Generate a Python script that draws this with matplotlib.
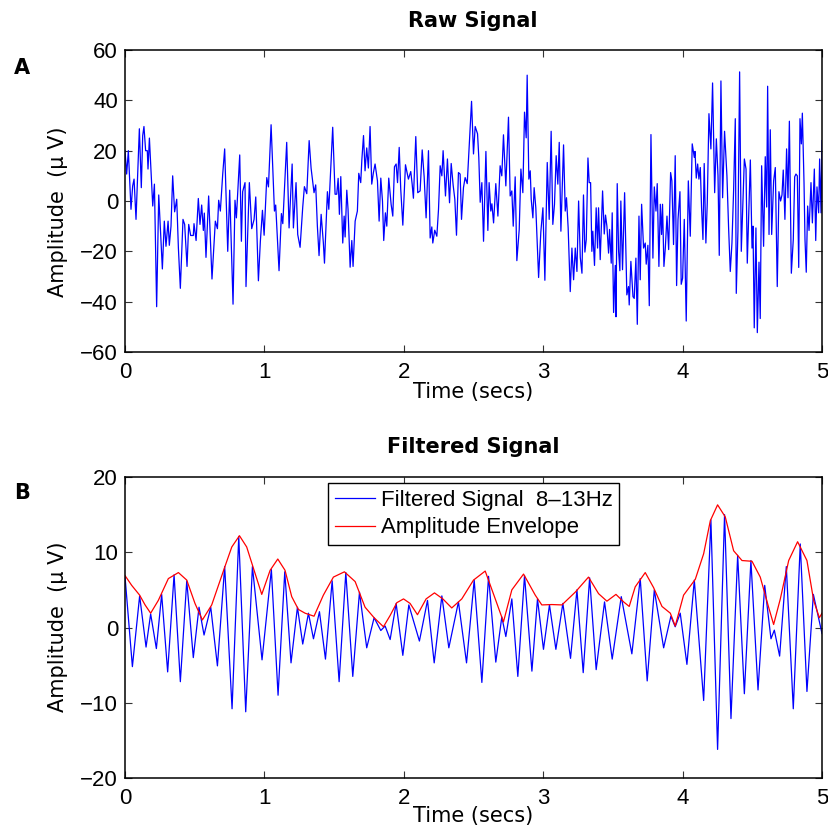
import matplotlib
matplotlib.use("Agg")
import matplotlib.pyplot as plt

# raw EEG trace (secs, microvolts)
raw_t = [
    0.000, 0.012, 0.024, 0.043, 0.055, 0.065, 0.079, 0.103, 0.117, 0.127,
    0.136, 0.148, 0.160, 0.165, 0.175, 0.199, 0.211, 0.227, 0.242, 0.268,
    0.282, 0.294, 0.309, 0.318, 0.330, 0.342, 0.356, 0.371, 0.383, 0.397,
    0.416, 0.428, 0.445, 0.457, 0.471, 0.490, 0.495, 0.510, 0.526, 0.538,
    0.550, 0.562, 0.569, 0.581, 0.600, 0.624, 0.648, 0.663, 0.672, 0.684,
    0.701, 0.715, 0.737, 0.751, 0.775, 0.789, 0.799, 0.823, 0.835, 0.844,
    0.861, 0.868, 0.892, 0.909, 0.926, 0.938, 0.957, 0.971, 0.986, 0.998,
    1.017, 1.029, 1.048, 1.072, 1.081, 1.105, 1.122, 1.132, 1.160, 1.177,
    1.199, 1.208, 1.227, 1.239, 1.256, 1.275, 1.287, 1.304, 1.321, 1.335,
    1.356, 1.368, 1.380, 1.392, 1.407, 1.423, 1.431, 1.452, 1.462, 1.476,
    1.490, 1.507, 1.519, 1.529, 1.538, 1.548, 1.562, 1.572, 1.579, 1.591,
    1.600, 1.615, 1.627, 1.636, 1.651, 1.667, 1.677,
    1.691, 1.699, 1.711, 1.722, 1.734, 1.746, 1.758, 1.770, 1.782, 1.794,
    1.811, 1.823, 1.835, 1.847, 1.856, 1.868, 1.878, 1.892, 1.909, 1.921,
    1.933, 1.945, 1.955, 1.967, 1.978, 1.993, 2.012, 2.033, 2.050, 2.060,
    2.069, 2.086, 2.100, 2.117, 2.132, 2.146, 2.160, 2.177, 2.189, 2.201,
    2.208, 2.222, 2.237, 2.249, 2.261, 2.273, 2.282, 2.299, 2.313, 2.328,
    2.340, 2.354, 2.366, 2.378, 2.392, 2.404, 2.414, 2.428, 2.440, 2.455,
    2.471, 2.486, 2.500, 2.512, 2.529, 2.538, 2.548, 2.560, 2.572, 2.589,
    2.603, 2.612, 2.624, 2.632, 2.644, 2.660, 2.675, 2.691, 2.703, 2.715,
    2.732, 2.751, 2.763, 2.775, 2.785, 2.799, 2.811, 2.828, 2.840, 2.854,
    2.866, 2.878, 2.885, 2.897, 2.907, 2.914, 2.926, 2.935, 2.947, 2.967,
    2.983, 2.998, 3.012, 3.029, 3.043, 3.057, 3.069, 3.081, 3.093, 3.105,
    3.115, 3.127, 3.146, 3.158, 3.167, 3.179, 3.194, 3.206, 3.218, 3.230,
    3.242, 3.254, 3.266,
    3.278, 3.289, 3.299, 3.309, 3.321, 3.330, 3.340, 3.349, 3.356, 3.368,
    3.380, 3.390, 3.397, 3.409, 3.426, 3.438, 3.447, 3.457, 3.469, 3.476,
    3.488, 3.495, 3.505, 3.517, 3.522, 3.531, 3.541, 3.550, 3.557, 3.569,
    3.584, 3.600, 3.612, 3.617, 3.629, 3.644, 3.653, 3.665, 3.675, 3.687,
    3.696, 3.706, 3.720, 3.732, 3.739, 3.751, 3.761, 3.773, 3.787, 3.797,
    3.809, 3.818, 3.830, 3.840, 3.849, 3.856, 3.866, 3.876, 3.888, 3.900,
    3.914, 3.923, 3.935, 3.947, 3.957, 3.967, 3.981, 3.990, 4.000, 4.012,
    4.026, 4.041, 4.055, 4.069, 4.084, 4.089, 4.098, 4.108, 4.117, 4.127,
    4.136, 4.146, 4.155, 4.167, 4.177, 4.189, 4.203, 4.215, 4.230, 4.242,
    4.254, 4.263, 4.275, 4.287, 4.301, 4.318, 4.330, 4.342, 4.354, 4.366,
    4.378, 4.385, 4.397, 4.409, 4.421, 4.431, 4.443, 4.455, 4.464, 4.486,
    4.498, 4.505, 4.514, 4.526, 4.536, 4.548, 4.557, 4.567, 4.581, 4.593,
    4.603, 4.610, 4.620, 4.629, 4.639, 4.653, 4.665, 4.679, 4.691, 4.703,
    4.713, 4.722, 4.734, 4.746, 4.756, 4.766, 4.780, 4.794, 4.804, 4.813,
    4.823, 4.833, 4.842, 4.852, 4.859, 4.871, 4.878, 4.887, 4.897, 4.907,
    4.921, 4.931, 4.945, 4.955, 4.964, 4.976, 4.983, 4.993, 5.000,
]
raw_v = [
    20, 10.7, 20, -3.3, 6, 8.7, -7.3, 28.7, 5.3, 26,
    29.6, 20, 20, 12.7, 25, -2, 6.7, -42, 2.4, -27,
    -8, -18, -8, -17.6, -10, 10, -4.3, 0.7, -18.7, -34.7,
    -7.3, -9.3, -26, -9.3, -13.7, -13.7, -9, -15.7, 1, -9.3,
    -1.6, -11.7, -4.8, -22.4, 2, -31, -8, -11, 0.3, -4,
    10.7, 20.7, -20, 4.3, -41, 0.3, -6.7, 18.3, -16, 3.7,
    7.3, -34, 7.3, -11, -7.3, 1.6, -31.7, -16, -3.7, -13.6,
    9.3, 5.6, 30.3, -4, -1.6, -27.7, -5, -9, 23.3, -10.7,
    14.7, -10.7, 7.3, -13.3, -18.4, -2.4, 5.7, 2.9, 24, 13,
    3.3, 6.4, -10, -21.7, -5.3, -16.7, -24.7, 3.7, -3.3, 13.3,
    29.3, 2.7, 2.7, 9, -5.3, 9.7, -16.7, -6, -14.3, 4.3,
    -3.3, -26.3, -15.7, -26, -8, -4, 11,
    7.3, 16.3, 26, 12, 21.1, 13.1, 29.6, 6.7, 11.3, 14.7,
    8, -8, 9.1, 0, -15.7, -4.7, -10, 9.1, -1.3, -6,
    13.6, 14.7, 7.3, 21.3, 4.7, -9.6, 14.4, 8.7, 11.7, 6.7,
    1.1, 25.6, 3.3, 4, 20.3, 9.6, -6.7, 20, -14.7, -10.3,
    -16.7, -11.6, -14, -3.3, 14, 10, 20, 2, 16.7, -0.7,
    14.9, 6.3, 0.7, -13.6, 11.3, 10.7, -7.3, 5.3, 9.3, 6.9,
    24, 39.6, 18.7, 29.6, 26.7, 17.3, -0.5, 7.3, -16, 19.7,
    -11.7, 7.3, -4, -1.1, -8.7, 6.9, -6, 14, 10, 26.3,
    6, 33.3, 2, 4, -10, 9.6, -23.7, -11.3, 12.7, 3.3,
    35.3, 25.1, 50, 8.7, 12, 0.7, -6.7, 5.3, -2.7, -30.4,
    -12.3, -2.7, -31.5, 15.3, -7.3, 27.7, -9.3, -1.3, 18, 6.7,
    23.3, -12, 22.3, -4, 1.3, -10.7, -36, -18.7, -31.3, -18.7,
    -28, 0, -22.4,
    -28.7, 2.4, -20.3, -15.3, 17.1, 7.3, 7.3, -20, -12, -25.6,
    -2.7, -18.7, -2.7, -23.3, 4, -13.1, -5.6, -10, -20.7, -11.3,
    -24.7, -4.7, -44.3, -25.6, -46, 6.9, -20, -27.7, 0, -27.3,
    3.3, -37.3, -34, -41.3, -24, -38, -38.7, -22.7, -49, -6,
    -31.3, -1.3, -18.7, -16.7, -25.1, -17.6, -41.6, 26.4, -22.7, 5.6,
    -4, 6.9, -26, -1.3, -13.3, -1.3, -26, -18.7, -6, -19.3,
    11.3, 8, -17.3, 18, -33.6, -7.3, 3.7, -33.1, -30.7, -7.3,
    -47.7, 8, -14, 22.7, 17.3, 19.7, 9.1, 14.7, 8.7, 13.3,
    -2.7, -15.3, 14.9, -16.7, -0.7, 34.7, 20.7, 46.9, 3.3, 24.7,
    10, -21.6, 47.7, 1.3, 27.7, 10, -10.7, -28, -16.7, 4.3,
    32.7, -36.7, -12, 51.3, -20, -3.3, 16.7, 12.7, -24.7, 16.3,
    -18.7, -10, -50.4, -10.7, -52.3, -24.3, -46.7, 14, -18, 17.6,
    -2.4, 45.6, -13.3, 28.3, -13.3, 8, 13.3, -34, 3.7, 0,
    2.4, 12.3, -7.3, 20.7, 1.3, 31.7, -28.7, -15.3, 9.6, 10.7,
    10, -26.4, 32.7, 22.7, 34.9, 7.3, -15.3, -28.3, -2, -11.7,
    7.3, -8.7, 12.7, -15.7, 5.6, -4.7, 16.7, -4.7, 24,
]

# alpha-band filtered trace: peaks and troughs (secs, microvolts)
filt_t = [
    0.000, 0.053, 0.105, 0.151, 0.184, 0.225, 0.263, 0.306, 0.352, 0.397,
    0.443, 0.490, 0.531, 0.567, 0.615, 0.663, 0.715, 0.768, 0.816, 0.866,
    0.914, 0.983, 1.050, 1.098, 1.146, 1.191, 1.237,
    1.275, 1.316, 1.352, 1.395, 1.438, 1.486, 1.536, 1.584, 1.634, 1.682,
    1.734, 1.787, 1.835, 1.866, 1.902, 1.945, 1.993, 2.036, 2.112, 2.170,
    2.218, 2.273, 2.323, 2.392, 2.450, 2.505,
    2.560, 2.608, 2.660, 2.703, 2.732, 2.775, 2.818, 2.866, 2.919, 2.959,
    3.002, 3.045, 3.091, 3.141, 3.196, 3.242, 3.287, 3.333, 3.380, 3.440,
    3.495, 3.560, 3.636, 3.696, 3.746,
    3.797, 3.864, 3.916, 3.947, 3.983, 4.031, 4.084, 4.151, 4.203, 4.251,
    4.301, 4.347, 4.395, 4.443, 4.490, 4.541, 4.589, 4.634, 4.658, 4.696,
    4.744, 4.794, 4.844, 4.892, 4.938, 5.000,
]
filt_v = [
    6.8, -5.2, 4.2, -2.6, 1.8, -2.8, 4.4, -5.9, 7.0, -7.2,
    6.2, -4.0, 2.7, -1.0, 2.7, -5.1, 8.1, -10.8, 12.1, -11.2,
    8.1, -4.3, 7.7, -9.0, 7.4, -4.7, 2.7,
    -2.2, 1.9, -1.5, 2.1, -4.2, 6.2, -7.2, 7.3, -6.5, 4.7,
    -2.7, 1.3, -0.4, 0.2, -1.6, 3.2, -3.7, 3.0, -1.8, 3.6,
    -4.7, 4.2, -2.7, 3.4, -4.7, 6.3,
    -7.3, 6.8, -4.6, 1.4, -1.2, 3.8, -6.5, 6.9, -5.8, 3.8,
    -2.9, 3.0, -2.9, 3.2, -4.1, 5.0, -6.0, 6.6, -5.6, 3.4,
    -4.2, 4.1, -3.5, 6.5, -7.1,
    5.0, -2.7, 1.5, 0.1, 1.9, -4.9, 6.3, -9.7, 14.3, -16.2,
    15.0, -12.1, 9.6, -8.8, 8.9, -8.3, 5.6, -1.5, -0.35, -3.8,
    8.1, -10.8, 11.1, -8.5, 4.4, -0.8,
]

# amplitude envelope
env_t = [
    0.000, 0.048, 0.105, 0.144, 0.184, 0.239, 0.311, 0.383, 0.443, 0.502,
    0.555, 0.622, 0.715, 0.766, 0.821, 0.873, 0.914, 0.981, 1.041, 1.096,
    1.148, 1.196, 1.244, 1.292, 1.356, 1.423, 1.495, 1.574, 1.651, 1.722,
    1.787, 1.854, 1.902, 1.950, 1.998, 2.045, 2.098, 2.160, 2.220, 2.280,
    2.344, 2.416, 2.500, 2.584, 2.656, 2.715, 2.775, 2.859, 2.943, 2.990,
    3.062, 3.134, 3.230, 3.325, 3.397, 3.457, 3.522, 3.577, 3.617, 3.660,
    3.732, 3.792, 3.852, 3.912, 3.947, 4.007, 4.091, 4.151, 4.199, 4.251,
    4.306, 4.366, 4.426, 4.498, 4.557, 4.617, 4.653, 4.701, 4.761, 4.825,
    4.892, 4.940, 4.981, 5.000,
]
env_v = [
    6.9, 5.6, 4.3, 3.0, 1.9, 3.6, 6.5, 7.3, 6.3, 3.2,
    1.0, 3.0, 8.0, 10.7, 12.2, 10.7, 8.3, 4.4, 7.6, 9.1,
    7.6, 4.1, 2.4, 1.9, 1.5, 4.3, 6.7, 7.4, 6.1, 2.7,
    1.3, 0.1, 1.6, 3.3, 3.8, 3.2, 1.7, 3.8, 4.6, 3.8,
    2.6, 3.8, 6.3, 7.5, 3.8, 0.75, 5.0, 7.1, 4.3, 3.0,
    3.05, 3.0, 4.7, 6.7, 4.5, 3.5, 4.4, 3.4, 2.8, 5.4,
    7.3, 5.3, 2.8, 1.9, 0.2, 4.3, 6.4, 9.8, 14.2, 16.3,
    14.7, 10.2, 8.9, 8.8, 6.7, 2.7, 0.4, 3.8, 8.9, 11.4,
    8.9, 3.6, 1.3, 1.9,
]

W, H = 829, 834
tick_font = "Liberation Sans"
label_font = "DejaVu Sans"

plt.rcParams["font.family"] = tick_font
plt.rcParams["font.size"] = 16

fig = plt.figure(figsize=(W / 100, H / 100), dpi=100)

def px_axes(left, top, right, bottom):
    return fig.add_axes([left / W, 1 - bottom / H, (right - left) / W, (bottom - top) / H])

def style(ax, ylim, yticks):
    ax.set_xlim(0, 5)
    ax.set_ylim(*ylim)
    ax.set_xticks([0, 1, 2, 3, 4, 5])
    ax.set_yticks(yticks)
    ax.tick_params(direction="in", top=True, right=True, length=5, width=0.8,
                   labelsize=16, color="#333333")
    ax.tick_params(axis="x", pad=7)
    ax.tick_params(axis="y", pad=5)
    for s in ax.spines.values():
        s.set_linewidth(1.1)

ax1 = px_axes(125, 50, 822, 352)
ax1.plot(raw_t, raw_v, color="#0000ff", lw=0.9)
style(ax1, (-60, 60), [-60, -40, -20, 0, 20, 40, 60])

ax2 = px_axes(125, 477, 822, 778)
ax2.plot(filt_t, filt_v, color="#0000ff", lw=0.9, label="Filtered Signal  8–13Hz")
ax2.plot(env_t, env_v, color="#ff0000", lw=0.9, label="Amplitude Envelope")
style(ax2, (-20, 20), [-20, -10, 0, 10, 20])
leg = ax2.legend(loc="upper center", bbox_to_anchor=(0.5, 0.98), fontsize=16,
                 fancybox=False, framealpha=1, edgecolor="black",
                 handlelength=1.8, handletextpad=0.27, labelspacing=0.3,
                 borderpad=0.3, borderaxespad=0)
leg.get_frame().set_linewidth(1.0)

def ftext(x, y, s, **kw):
    fig.text(x / W, 1 - y / H, s, ha="center", va="center", **kw)

ftext(473, 21, "Raw Signal", family=label_font, weight="bold", fontsize=15)
ftext(473, 447, "Filtered Signal", family=label_font, weight="bold", fontsize=15)
ftext(22, 68, "A", family=label_font, weight="bold", fontsize=15)
ftext(22, 493, "B", family=label_font, weight="bold", fontsize=15)
ftext(473, 392, "Time (secs)", family=label_font, fontsize=15)
ftext(473, 816, "Time (secs)", family=label_font, fontsize=15)
ftext(58, 212, "Amplitude  (μ V)", family=label_font, fontsize=15, rotation=90)
ftext(58, 627, "Amplitude  (μ V)", family=label_font, fontsize=15, rotation=90)

fig.savefig("out.png", dpi=100)
